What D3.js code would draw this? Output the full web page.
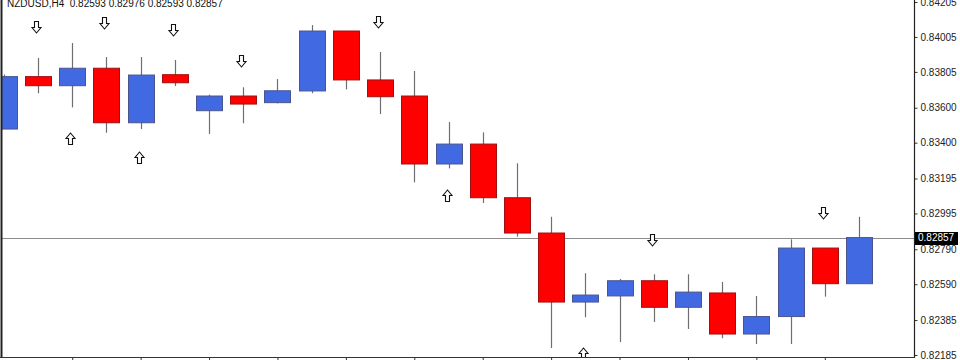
<!DOCTYPE html>
<html>
<head>
<meta charset="utf-8">
<script src="https://cdn.jsdelivr.net/npm/d3@7"></script>
<style>
  body { margin: 0; background: #fff; }
  svg { display: block; }
</style>
</head>
<body>
<svg id="chart" width="960" height="360"></svg>
<script>
// NZDUSD H4 candles
const opens  = [0.83478, 0.83778, 0.83726, 0.83826, 0.83514, 0.83789, 0.83583, 0.83667, 0.83629, 0.83696,
                0.84039, 0.83759, 0.83667, 0.83278, 0.83392, 0.83085, 0.82883, 0.82488, 0.82523, 0.82610,
                0.82458, 0.82540, 0.82305, 0.82405, 0.82797, 0.82593];
const closes = [0.83778, 0.83726, 0.83826, 0.83514, 0.83787, 0.83743, 0.83667, 0.83621, 0.83697, 0.84039,
                0.83759, 0.83663, 0.83278, 0.83392, 0.83085, 0.82883, 0.82488, 0.82528, 0.82610, 0.82458,
                0.82545, 0.82305, 0.82405, 0.82797, 0.82593, 0.82857];
const highs  = [0.83790, 0.83885, 0.83970, 0.83890, 0.83890, 0.83873, 0.83675, 0.83717, 0.83764, 0.84073,
                0.83965, 0.83919, 0.83810, 0.83518, 0.83459, 0.83282, 0.82976, 0.82653, 0.82620, 0.82647,
                0.82647, 0.82603, 0.82523, 0.82847, 0.82797, 0.82976];
const lows   = [0.83478, 0.83683, 0.83602, 0.83457, 0.83478, 0.83724, 0.83450, 0.83511, 0.83625, 0.83683,
                0.83705, 0.83564, 0.83173, 0.83253, 0.83055, 0.82862, 0.82225, 0.82401, 0.82259, 0.82374,
                0.82334, 0.82281, 0.82248, 0.82248, 0.82519, 0.82593];

// fractal arrows: candle index + price level
const upFractalIdx = [2, 4, 13, 17];
const upFractalPx  = [0.83427, 0.83318, 0.83101, 0.82196];
const dnFractalIdx = [1, 3, 5, 7, 11, 19, 24];
const dnFractalPx  = [0.84062, 0.84085, 0.84045, 0.83867, 0.84091, 0.82843, 0.82998];

const priceTicks = [0.84205, 0.84005, 0.83805, 0.83600, 0.83400, 0.83195, 0.82995, 0.82790, 0.82590, 0.82385, 0.82185];
const timeTicks = [2, 4, 6, 8, 10, 12, 14, 16, 18, 20, 22, 24];
const symbol = 'NZDUSD,H4';
const lastPrice = 0.82857;

const svg = d3.select('#chart');
const W = 960, H = 360;
const axisX = 914, axisY = 357;

const x = d3.scaleLinear().domain([0, 25]).range([3.8, 859]);
const y = d3.scaleLinear().domain([0.82185, 0.84205]).range([355, 2]);
const bodyW = 26;

const candles = opens.map((o, i) => ({ i, o, c: closes[i], h: highs[i], l: lows[i] }));

const plot = svg.append('g');

// clip so the first candle gets cut at the left border
svg.append('defs').append('clipPath').attr('id', 'clip')
  .append('rect').attr('x', 2).attr('y', 0).attr('width', axisX - 2).attr('height', axisY);
plot.attr('clip-path', 'url(#clip)');

// current price line
plot.append('line')
  .attr('x1', 0).attr('x2', axisX)
  .attr('y1', Math.round(y(lastPrice)) + 0.5).attr('y2', Math.round(y(lastPrice)) + 0.5)
  .attr('stroke', '#8c8c8c').attr('stroke-width', 1);

// wicks
plot.selectAll('.wick')
  .data(candles)
  .join('line')
  .attr('class', 'wick')
  .attr('x1', d => Math.round(x(d.i)) + 0.5)
  .attr('x2', d => Math.round(x(d.i)) + 0.5)
  .attr('y1', d => y(d.h))
  .attr('y2', d => y(d.l))
  .attr('stroke', '#6e6e6e')
  .attr('stroke-width', 1.2);

// bodies
plot.selectAll('.body')
  .data(candles)
  .join('rect')
  .attr('class', 'body')
  .attr('x', d => Math.round(x(d.i)) - bodyW / 2 + 0.5)
  .attr('y', d => y(Math.max(d.o, d.c)))
  .attr('width', bodyW)
  .attr('height', d => Math.max(1, Math.abs(y(d.o) - y(d.c))))
  .attr('fill', d => d.c >= d.o ? '#4169e1' : '#ff0000')
  .attr('stroke', d => d.c >= d.o ? '#4a5590' : '#a01010')
  .attr('stroke-width', 1);

// hollow arrows
const downArrow = 'M-2,-6 L2,-6 L2,0 L4.5,0 L0,5.5 L-4.5,0 L-2,0 Z';
const upArrow = 'M-2,6 L2,6 L2,0 L4.5,0 L0,-5.5 L-4.5,0 L-2,0 Z';

plot.selectAll('.dn')
  .data(dnFractalIdx.map((k, j) => ({ k, p: dnFractalPx[j] })))
  .join('path')
  .attr('class', 'dn')
  .attr('transform', d => `translate(${Math.round(x(d.k)) - 1.5},${Math.round(y(d.p)) + 0.5})`)
  .attr('d', downArrow)
  .attr('fill', '#fff')
  .attr('stroke', '#111')
  .attr('stroke-width', 1.1);

plot.selectAll('.up')
  .data(upFractalIdx.map((k, j) => ({ k, p: upFractalPx[j] })))
  .join('path')
  .attr('class', 'up')
  .attr('transform', d => `translate(${Math.round(x(d.k)) - 1.5},${Math.round(y(d.p)) + 0.5})`)
  .attr('d', upArrow)
  .attr('fill', '#fff')
  .attr('stroke', '#111')
  .attr('stroke-width', 1.1);

// frame: left border, right price axis, bottom time axis
svg.append('line')
  .attr('x1', 1.5).attr('x2', 1.5).attr('y1', 0).attr('y2', axisY)
  .attr('stroke', '#222').attr('stroke-width', 2);

const yAxis = svg.append('g')
  .attr('transform', `translate(${axisX + 0.5},0)`)
  .call(d3.axisRight(y).tickValues(priceTicks).tickSize(3).tickPadding(3).tickFormat(d3.format('.5f')));
yAxis.select('.domain').remove();
yAxis.selectAll('text')
  .attr('font-family', 'Liberation Sans, Arial')
  .attr('font-size', '10px')
  .attr('fill', '#222');
yAxis.selectAll('line').attr('stroke', '#333');

const xAxis = svg.append('g')
  .attr('transform', `translate(0,${axisY + 0.5})`)
  .call(d3.axisBottom(x).tickValues(timeTicks).tickSize(4).tickFormat(''));
xAxis.select('.domain').remove();
xAxis.selectAll('line').attr('stroke', '#333');

svg.append('line')
  .attr('x1', axisX + 0.5).attr('x2', axisX + 0.5).attr('y1', 0).attr('y2', axisY + 1)
  .attr('stroke', '#222').attr('stroke-width', 1.2);
svg.append('line')
  .attr('x1', 0).attr('x2', axisX + 1).attr('y1', axisY + 0.5).attr('y2', axisY + 0.5)
  .attr('stroke', '#333').attr('stroke-width', 1.2);

// last price tag on the axis
const tagY = Math.round(y(lastPrice));
svg.append('rect')
  .attr('x', axisX + 1).attr('y', tagY - 6)
  .attr('width', W - axisX - 3).attr('height', 13)
  .attr('fill', '#000');
svg.append('text')
  .attr('x', axisX + 4).attr('y', tagY)
  .attr('dy', '0.34em')
  .attr('font-family', 'Liberation Sans, Arial')
  .attr('font-size', '10px')
  .attr('fill', '#fff')
  .text(d3.format('.5f')(lastPrice));

// title (partly cut off at the top in the original)
svg.append('text')
  .attr('x', 7).attr('y', 7)
  .attr('font-family', 'Liberation Sans, Arial')
  .attr('font-size', '10px')
  .attr('fill', '#111')
  .attr('xml:space', 'preserve')
  .text(`${symbol}  ${[opens[25], highs[25], lows[25], closes[25]].map(d3.format('.5f')).join(' ')}`);
</script>
</body>
</html>
